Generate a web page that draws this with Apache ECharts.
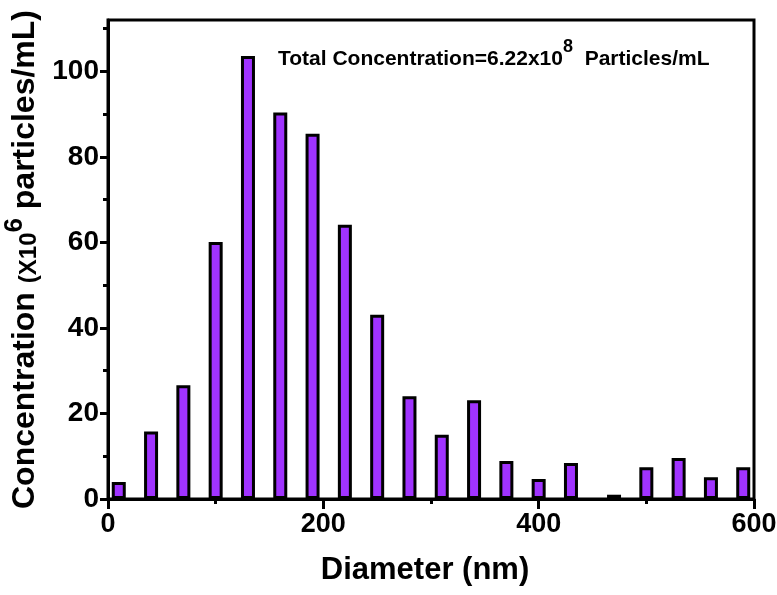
<!DOCTYPE html>
<html>
<head>
<meta charset="utf-8">
<script src="https://cdn.jsdelivr.net/npm/echarts@6/dist/echarts.min.js"></script>
<style>
html,body{margin:0;padding:0;background:#fff;}
#chart{width:777px;height:595px;}
</style>
</head>
<body>
<div id="chart"></div>
<script>
// Data
const diameters = [10, 40, 70, 100, 130, 160, 190, 220, 250, 280, 310, 340, 370, 400, 430, 470, 500, 530, 560, 590];
const concentration = [4.0, 15.8, 26.6, 60.1, 103.6, 90.4, 85.4, 64.1, 43.1, 24.0, 15.0, 23.1, 8.9, 4.7, 8.4, 1.0, 7.4, 9.6, 5.1, 7.4];
const xTicks = [0, 200, 400, 600];
const yMajorTicks = [0, 20, 40, 60, 80, 100];
const yMinorTicks = [10, 30, 50, 70, 90, 110];

const FONT = '"Liberation Sans", Arial, sans-serif';
const chart = echarts.init(document.getElementById('chart'), null, {renderer: 'canvas'});

const barData = diameters.map((d, i) => [d, concentration[i]]);

chart.setOption({
  animation: false,
  backgroundColor: '#fff',
  title: {
    left: 273,
    top: 33,
    text: '{m|Total Concentration=6.22x10}{s|8}{m|  Particles/mL}',
    textStyle: {
      rich: {
        m: {fontFamily: FONT, fontWeight: 'bold', fontSize: 21, color: '#000', lineHeight: 32, verticalAlign: 'bottom'},
        s: {fontFamily: FONT, fontWeight: 'bold', fontSize: 18, color: '#000', lineHeight: 20, verticalAlign: 'top'}
      }
    }
  },
  grid: {
    left: 108, right: 23, top: 20, bottom: 96,
    outerBoundsMode: 'none',
    containLabel: false,
    show: true, borderColor: '#000', borderWidth: 3, backgroundColor: 'transparent'
  },
  xAxis: {
    type: 'value',
    min: 0, max: 600, interval: 200,
    name: 'Diameter (nm)',
    nameLocation: 'middle',
    nameGap: 56,
    nameTextStyle: {fontFamily: FONT, fontWeight: 'bold', fontSize: 31, color: '#000', padding: [0, 12, 0, 0]},
    axisLine: {show: true, onZero: false, lineStyle: {color: '#000', width: 3}},
    axisTick: {show: true, length: 10, lineStyle: {color: '#000', width: 3}},
    minorTick: {show: true, splitNumber: 2, length: 5, lineStyle: {color: '#000', width: 3}},
    axisLabel: {margin: 12, fontFamily: FONT, fontWeight: 'bold', fontSize: 27, color: '#000',
      customValues: xTicks},
    splitLine: {show: false},
    minorSplitLine: {show: false}
  },
  yAxis: [{
    type: 'value',
    min: 0, max: 112,
    position: 'left',
    name: '{a|Concentration }{b|(X10}{s|6}{a| particles/mL)}',
    nameLocation: 'middle',
    nameRotate: 90,
    nameGap: 66,
    nameTextStyle: {
      rich: {
        a: {fontFamily: FONT, fontWeight: 'bold', fontSize: 32, color: '#000', lineHeight: 40, verticalAlign: 'bottom'},
        b: {fontFamily: FONT, fontWeight: 'bold', fontSize: 24, color: '#000', lineHeight: 33, verticalAlign: 'bottom'},
        s: {fontFamily: FONT, fontWeight: 'bold', fontSize: 26, color: '#000', lineHeight: 30, verticalAlign: 'top'}
      }
    },
    axisLine: {show: true, onZero: false, lineStyle: {color: '#000', width: 3}},
    axisTick: {show: true, length: 8, lineStyle: {color: '#000', width: 3}, customValues: yMajorTicks},
    axisLabel: {margin: 9, fontFamily: FONT, fontWeight: 'bold', fontSize: 28, color: '#000', customValues: yMajorTicks},
    splitLine: {show: false}
  }, {
    type: 'value',
    min: 0, max: 112,
    position: 'left',
    axisLine: {show: false},
    axisTick: {show: true, length: 5, lineStyle: {color: '#000', width: 3}, customValues: yMinorTicks},
    axisLabel: {show: false},
    splitLine: {show: false}
  }],
  series: [{
    type: 'bar',
    xAxisIndex: 0,
    yAxisIndex: 0,
    data: barData,
    barWidth: 14,
    barMaxWidth: 20,
    barMinWidth: 14,
    itemStyle: {color: '#a033ff', borderColor: '#000', borderWidth: 3}
  }]
});
</script>
</body>
</html>
